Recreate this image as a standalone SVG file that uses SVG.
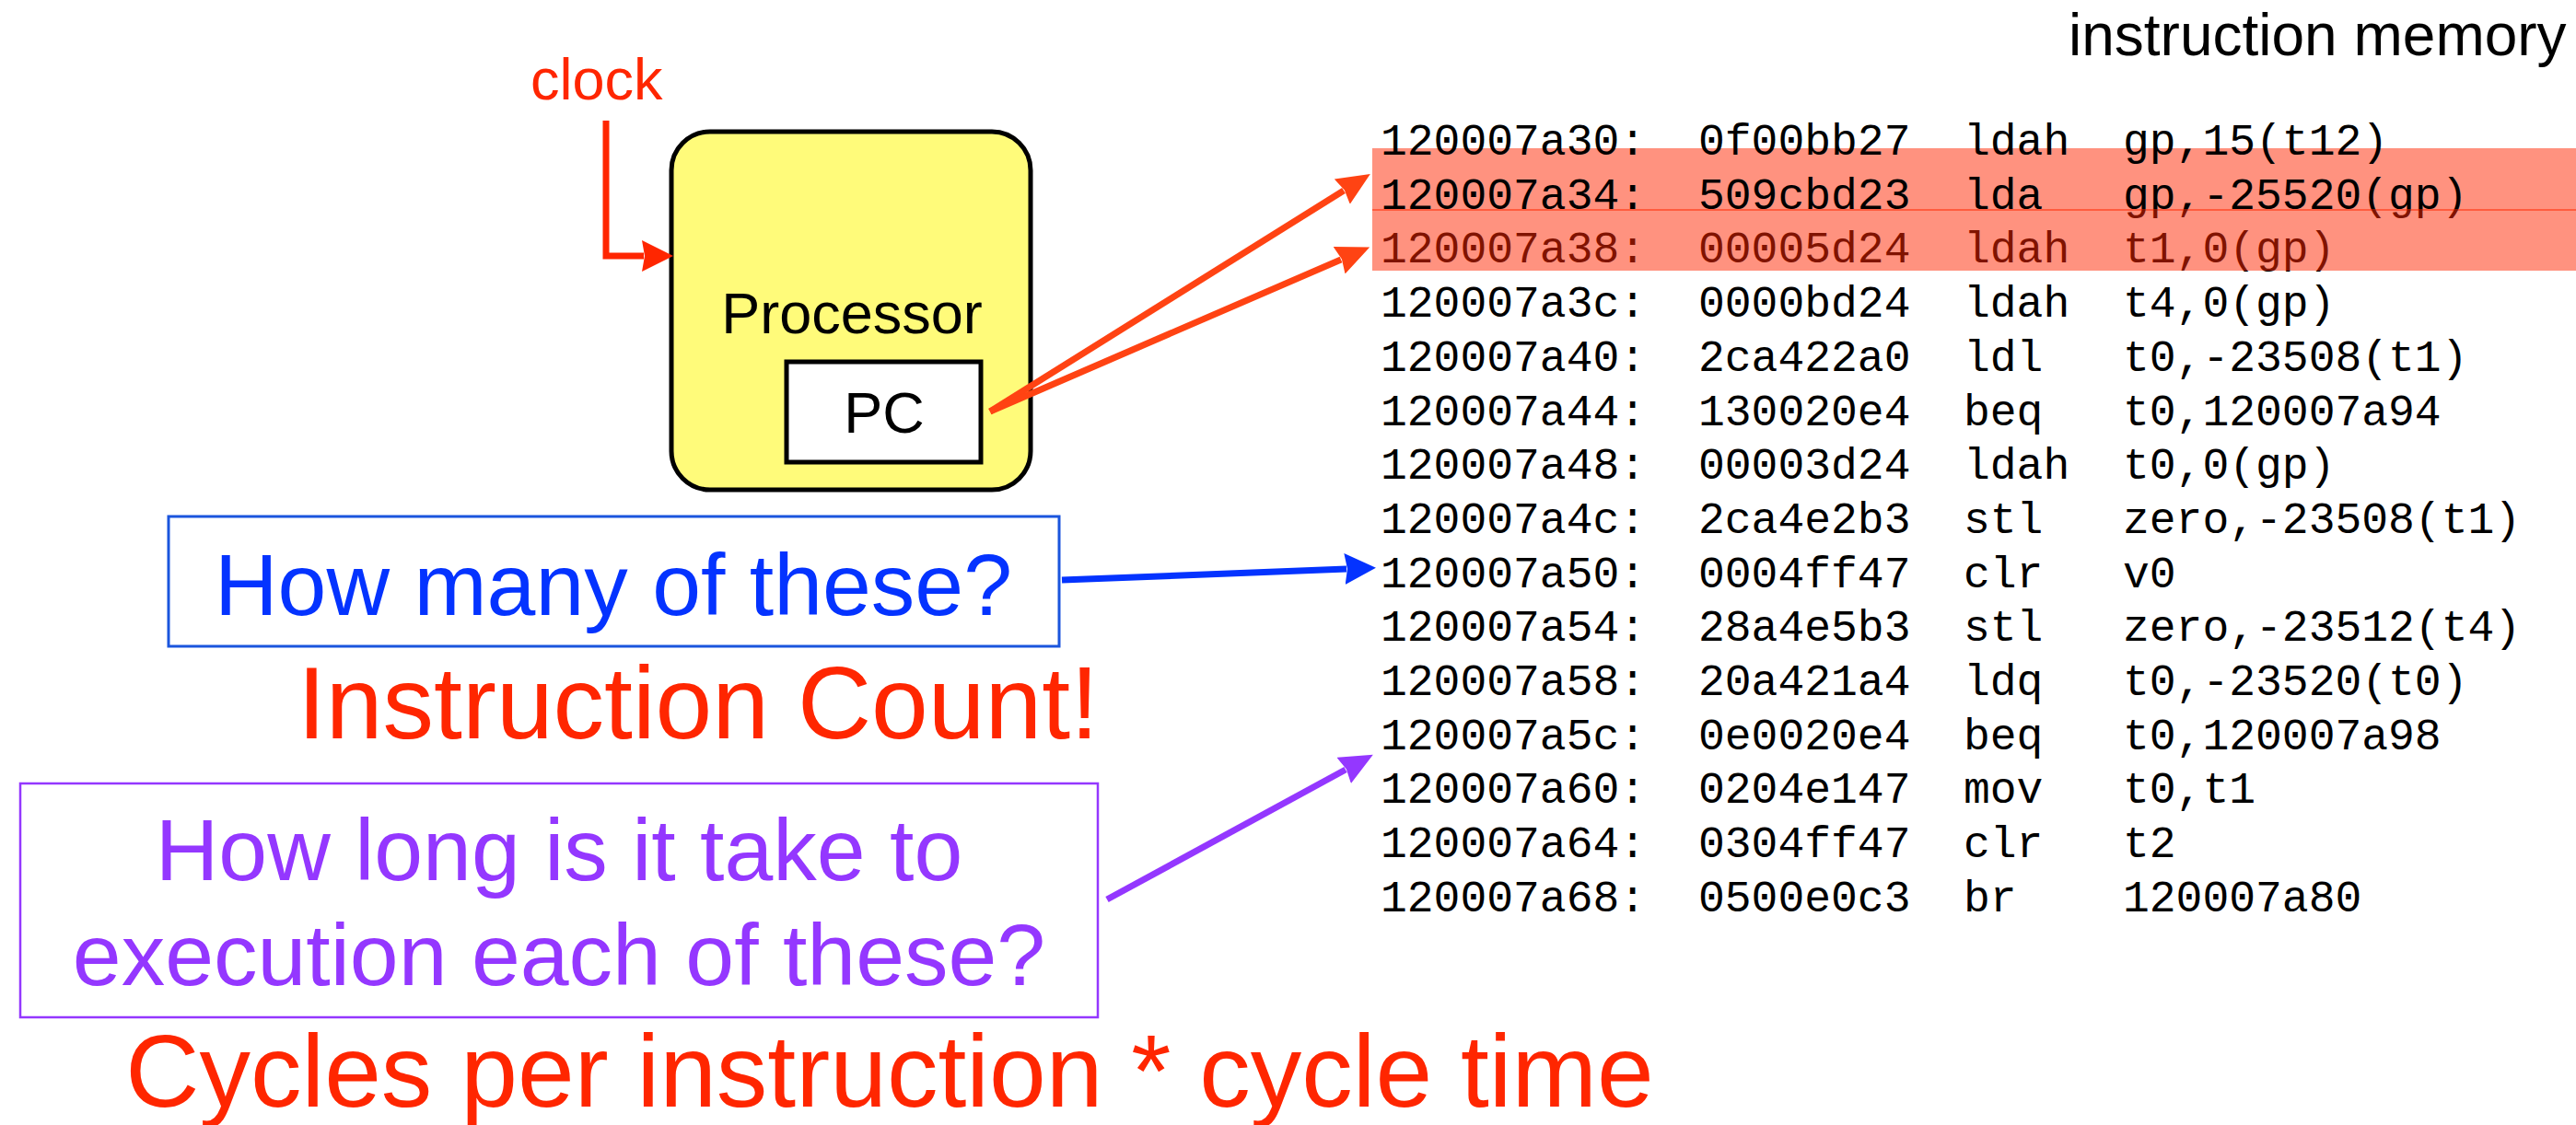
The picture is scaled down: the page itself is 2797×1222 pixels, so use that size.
<svg xmlns="http://www.w3.org/2000/svg" width="2797" height="1222" viewBox="0 0 2797 1222">
  <style>
    .sans { font-family: "Liberation Sans", Arial, Helvetica, sans-serif; }
    .mono { font-family: "Liberation Mono", "Courier New", monospace; font-size: 48px; fill: #000; }
    .red { fill: #FF2600; }
    .blue { fill: #0433FF; }
    .purple { fill: #9437FF; }
    .hl { fill: #FF2600; fill-opacity: 0.5; }
    .conn { fill: none; stroke-width: 7; stroke-linejoin: miter; }
  </style>
  <defs>
    <marker id="head-red" markerUnits="userSpaceOnUse" markerWidth="40" markerHeight="40" refX="2" refY="17" orient="auto">
      <path d="M0,0 L34,17 L0,34 L3,17 z" fill="#FF2600"/>
    </marker>
    <marker id="head-orange" markerUnits="userSpaceOnUse" markerWidth="40" markerHeight="40" refX="2" refY="16" orient="auto">
      <path d="M0,0 L36,16 L0,32 L3,16 z" fill="#FF4313"/>
    </marker>
    <marker id="head-blue" markerUnits="userSpaceOnUse" markerWidth="40" markerHeight="40" refX="2" refY="17" orient="auto">
      <path d="M0,0 L34,17 L0,34 L3,17 z" fill="#0433FF"/>
    </marker>
    <marker id="head-purple" markerUnits="userSpaceOnUse" markerWidth="40" markerHeight="40" refX="2" refY="16" orient="auto">
      <path d="M0,0 L36,16 L0,32 L3,16 z" fill="#9437FF"/>
    </marker>
  </defs>

  <rect width="2797" height="1222" fill="#fff"/>

  <!-- title of the memory listing -->
  <text id="memory-title" class="sans" x="2246" y="60" font-size="64" fill="#000">instruction memory</text>

  <!-- highlight behind the second instruction -->
  <rect class="hl" x="1490" y="161" width="1307" height="68"/>

  <!-- instruction memory listing -->
  <g id="listing" class="mono">
    <text y="168"><tspan x="1499">120007a30:</tspan><tspan x="1844">0f00bb27</tspan><tspan x="2132">ldah</tspan><tspan x="2305">gp,15(t12)</tspan></text>
    <text y="226.7"><tspan x="1499">120007a34:</tspan><tspan x="1844">509cbd23</tspan><tspan x="2132">lda</tspan><tspan x="2305">gp,-25520(gp)</tspan></text>
    <text y="285.4"><tspan x="1499">120007a38:</tspan><tspan x="1844">00005d24</tspan><tspan x="2132">ldah</tspan><tspan x="2305">t1,0(gp)</tspan></text>
    <text y="344.1"><tspan x="1499">120007a3c:</tspan><tspan x="1844">0000bd24</tspan><tspan x="2132">ldah</tspan><tspan x="2305">t4,0(gp)</tspan></text>
    <text y="402.8"><tspan x="1499">120007a40:</tspan><tspan x="1844">2ca422a0</tspan><tspan x="2132">ldl</tspan><tspan x="2305">t0,-23508(t1)</tspan></text>
    <text y="461.5"><tspan x="1499">120007a44:</tspan><tspan x="1844">130020e4</tspan><tspan x="2132">beq</tspan><tspan x="2305">t0,120007a94</tspan></text>
    <text y="520.2"><tspan x="1499">120007a48:</tspan><tspan x="1844">00003d24</tspan><tspan x="2132">ldah</tspan><tspan x="2305">t0,0(gp)</tspan></text>
    <text y="578.9"><tspan x="1499">120007a4c:</tspan><tspan x="1844">2ca4e2b3</tspan><tspan x="2132">stl</tspan><tspan x="2305">zero,-23508(t1)</tspan></text>
    <text y="637.6"><tspan x="1499">120007a50:</tspan><tspan x="1844">0004ff47</tspan><tspan x="2132">clr</tspan><tspan x="2305">v0</tspan></text>
    <text y="696.3"><tspan x="1499">120007a54:</tspan><tspan x="1844">28a4e5b3</tspan><tspan x="2132">stl</tspan><tspan x="2305">zero,-23512(t4)</tspan></text>
    <text y="755"><tspan x="1499">120007a58:</tspan><tspan x="1844">20a421a4</tspan><tspan x="2132">ldq</tspan><tspan x="2305">t0,-23520(t0)</tspan></text>
    <text y="813.7"><tspan x="1499">120007a5c:</tspan><tspan x="1844">0e0020e4</tspan><tspan x="2132">beq</tspan><tspan x="2305">t0,120007a98</tspan></text>
    <text y="872.4"><tspan x="1499">120007a60:</tspan><tspan x="1844">0204e147</tspan><tspan x="2132">mov</tspan><tspan x="2305">t0,t1</tspan></text>
    <text y="931.1"><tspan x="1499">120007a64:</tspan><tspan x="1844">0304ff47</tspan><tspan x="2132">clr</tspan><tspan x="2305">t2</tspan></text>
    <text y="989.8"><tspan x="1499">120007a68:</tspan><tspan x="1844">0500e0c3</tspan><tspan x="2132">br</tspan><tspan x="2305">120007a80</tspan></text>
  </g>

  <!-- highlight laid over the third instruction -->
  <rect class="hl" x="1490" y="227" width="1307" height="67"/>

  <!-- processor with its program counter -->
  <g id="processor">
    <rect x="729" y="143" width="390" height="389" rx="42" ry="42" fill="#FFFB7A" stroke="#000" stroke-width="5"/>
    <text class="sans" x="925" y="362" font-size="63" text-anchor="middle" fill="#000">Processor</text>
  </g>
  <g id="pc">
    <rect x="854" y="393" width="211" height="109" fill="#fff" stroke="#000" stroke-width="5"/>
    <text class="sans" x="960" y="470" font-size="63" text-anchor="middle" fill="#000">PC</text>
  </g>

  <g id="clock">
    <text class="sans red" x="576" y="108" font-size="63">clock</text>
  </g>

  <g id="count-question">
    <rect x="183" y="561" width="967" height="141" fill="#fff" stroke="#1A55DD" stroke-width="3"/>
    <text class="sans blue" x="666" y="668" font-size="95" text-anchor="middle">How many of these?</text>
  </g>

  <g id="count-answer">
    <text class="sans red" x="758" y="802" font-size="111" text-anchor="middle">Instruction Count!</text>
  </g>

  <g id="time-question">
    <rect x="22" y="851" width="1170" height="254" fill="#fff" stroke="#9437FF" stroke-width="2.5"/>
    <text class="sans purple" x="607" y="956" font-size="95" text-anchor="middle">How long is it take to</text>
    <text class="sans purple" x="607" y="1070" font-size="95" text-anchor="middle">execution each of these?</text>
  </g>

  <g id="time-answer">
    <text class="sans red" x="966" y="1202" font-size="111" text-anchor="middle">Cycles per instruction * cycle time</text>
  </g>

  <!-- connectors -->
  <g id="connectors">
    <path class="conn" d="M658,131 V278 H699" stroke="#FF2600" marker-end="url(#head-red)"/>
    <path class="conn" d="M1075,447 L1459,207" stroke="#FF4313" marker-end="url(#head-orange)"/>
    <path class="conn" d="M1075,447 L1456,282" stroke="#FF4313" marker-end="url(#head-orange)"/>
    <path class="conn" d="M1153,630 L1462,618" stroke="#0433FF" marker-end="url(#head-blue)"/>
    <path class="conn" d="M1202,977 L1461,836" stroke="#9437FF" marker-end="url(#head-purple)"/>
  </g>
</svg>
